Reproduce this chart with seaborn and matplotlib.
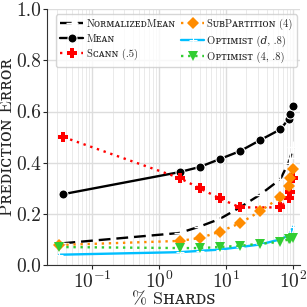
import numpy as np
import seaborn as sns
import matplotlib.pyplot as plt

# % of shards probed
x_main = [0.037, 2, 4, 8, 16, 32, 64, 85, 90, 100]
x_early = [0.032, 2, 4, 8, 16, 32, 64, 85, 90, 100]

norm_mean = [0.085, 0.125, 0.15, 0.18, 0.225, 0.275, 0.335, 0.40, 0.42, 0.46]
mean = [0.277, 0.363, 0.383, 0.414, 0.445, 0.488, 0.53, 0.57, 0.59, 0.62]
scann_x = [0.037, 2, 4, 8, 16, 64, 85, 90, 100]
scann = [0.50, 0.34, 0.30, 0.26, 0.225, 0.225, 0.26, 0.285, 0.34]
subpart = [0.078, 0.094, 0.105, 0.13, 0.163, 0.21, 0.265, 0.31, 0.34, 0.375]
opt_d = [0.04, 0.05, 0.055, 0.06, 0.07, 0.08, 0.10, 0.115, 0.125, 0.15]
opt_4 = [0.07, 0.066, 0.066, 0.07, 0.075, 0.083, 0.09, 0.10, 0.102, 0.105]

labels = ["NᴏʀᴍᴀʟɪᴢᴇᴅMᴇᴀɴ", "Mᴇᴀɴ", "Sᴄᴀɴɴ (.5)",
          "SᴜʙPᴀʀᴛɪᴛɪᴏɴ (4)", "Oᴘᴛɪᴍɪꜱᴛ (𝑑, .8)", "Oᴘᴛɪᴍɪꜱᴛ (4, .8)"]

sns.set_style("whitegrid")
plt.rcParams["font.family"] = ["cmr10", "DejaVu Serif", "DejaVu Sans"]
plt.rcParams["mathtext.fontset"] = "cm"
plt.rcParams["axes.formatter.use_mathtext"] = True

fig = plt.figure(figsize=(3.07, 3.07), dpi=100)
ax = fig.add_axes([0.153, 0.137, 0.825, 0.833])

lw = 1.7
sns.lineplot(x=x_main, y=norm_mean, ax=ax, color="black", linestyle=(0, (5, 2.5)),
             marker="+", markersize=8, markeredgewidth=1.0, lw=lw, label=labels[0])
sns.lineplot(x=x_main, y=mean, ax=ax, color="black", linestyle="-",
             marker="o", markersize=6.5, lw=lw, label=labels[1])
sns.lineplot(x=scann_x, y=scann, ax=ax, color="red", linestyle=(0, (1, 2)),
             marker="P", markersize=7.5, markeredgewidth=0, lw=lw, label=labels[2])
sns.lineplot(x=x_early, y=subpart, ax=ax, color="darkorange", linestyle=(0, (1, 2)),
             marker="D", markersize=6.5, markeredgewidth=0, lw=lw, label=labels[3])
sns.lineplot(x=x_early, y=opt_d, ax=ax, color="deepskyblue", linestyle="-",
             marker="+", markersize=6, markeredgewidth=0.8, lw=lw, label=labels[4])
sns.lineplot(x=x_early, y=opt_4, ax=ax, color="limegreen", linestyle=(0, (1, 2)),
             marker="v", markersize=6.5, markeredgewidth=0, lw=lw, label=labels[5])

ax.set_xscale("log")
ax.set_xlim(0.021, 127)
ax.set_ylim(0, 1.0)
ax.set_yticks([0.0, 0.2, 0.4, 0.6, 0.8, 1.0])
ax.set_yticklabels(["0.0", "0.2", "0.4", "0.6", "0.8", "1.0"])
ax.grid(which="major", color="#dddddd", lw=1.0)
ax.grid(which="minor", axis="x", color="#e6e6e6", lw=0.6)
ax.tick_params(axis="both", which="major", labelsize=14, length=3, direction="out",
               left=True, bottom=True, pad=1)
ax.tick_params(axis="x", which="minor", length=0)
for s in ["top", "right"]:
    ax.spines[s].set_visible(False)
for s in ["left", "bottom"]:
    ax.spines[s].set_color("#333333")
    ax.spines[s].set_linewidth(0.8)

ax.set_xlabel("% Sʜᴀʀᴅꜱ", fontsize=13, labelpad=0)
ax.set_ylabel("Pʀᴇᴅɪᴄᴛɪᴏɴ Eʀʀᴏʀ", fontsize=13, labelpad=1)

ax.legend(ncol=2, loc="upper left", fontsize=7.6, frameon=True, handlelength=2.2,
          handletextpad=0.3, columnspacing=0.5, labelspacing=0.5,
          borderpad=0.4, bbox_to_anchor=(0.015, 1.0))

fig.savefig("out.png", dpi=100)
